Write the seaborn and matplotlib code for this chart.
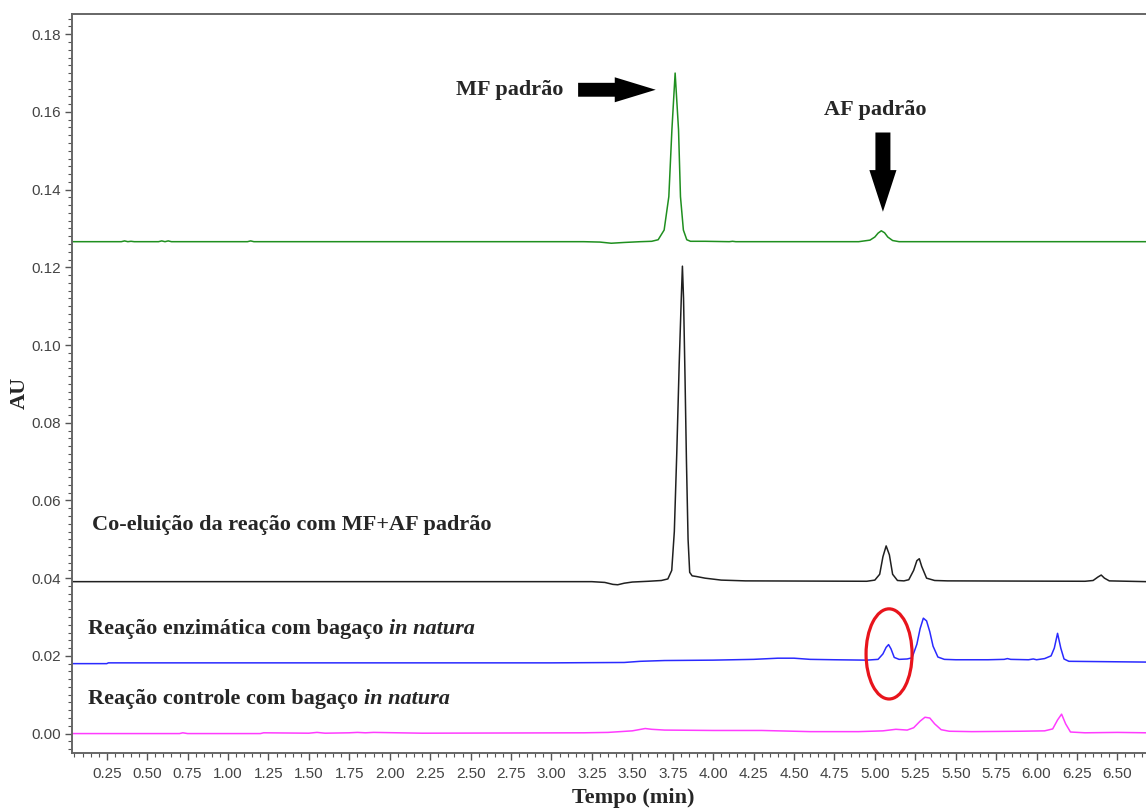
import numpy as np
import pandas as pd
import matplotlib
matplotlib.use("Agg")
import matplotlib.pyplot as plt
from matplotlib.patches import Ellipse
from matplotlib.ticker import MultipleLocator, FormatStrFormatter
import seaborn as sns

# ---------------- data ----------------
# Standard MF + AF (green)
t_std = [0.035, 0.34, 0.36, 0.38, 0.40, 0.42, 0.57, 0.59, 0.61, 0.63, 0.65, 1.12, 1.14, 1.16,
         1.18, 3.20, 3.30, 3.37, 3.45, 3.55, 3.62, 3.66, 3.697, 3.726, 3.745, 3.765, 3.786,
         3.798, 3.816, 3.837, 3.86, 3.95, 4.10, 4.12, 4.14, 4.90, 4.97, 5.00, 5.02, 5.04,
         5.06, 5.08, 5.11, 5.15, 6.68]
au_std = [0.1266, 0.1266, 0.1268, 0.1266, 0.1267, 0.1266, 0.1266, 0.1268, 0.1266, 0.1268,
          0.1266, 0.1266, 0.1268, 0.1266, 0.1266, 0.1266, 0.1265, 0.1262, 0.1264, 0.1266,
          0.1267, 0.1271, 0.1296, 0.1382, 0.1554, 0.1700, 0.1554, 0.1382, 0.1296, 0.1271,
          0.1267, 0.1267, 0.1266, 0.1267, 0.1266, 0.1266, 0.1270, 0.1278, 0.1288, 0.1294,
          0.1289, 0.1278, 0.1269, 0.1266, 0.1266]

# Co-elution (black)
t_coel = [0.035, 3.25, 3.33, 3.38, 3.41, 3.45, 3.50, 3.60, 3.68, 3.72, 3.744, 3.76, 3.775,
          3.79, 3.803, 3.81, 3.817, 3.826, 3.835, 3.845, 3.855, 3.87, 3.90, 3.95, 4.05, 4.20,
          4.95, 5.00, 5.03, 5.05, 5.07, 5.09, 5.11, 5.14, 5.18, 5.21, 5.24, 5.26, 5.275, 5.29,
          5.32, 5.37, 5.45, 6.30, 6.35, 6.38, 6.40, 6.42, 6.45, 6.68]
au_coel = [0.0391, 0.0391, 0.0389, 0.0384, 0.0383, 0.0387, 0.0390, 0.0392, 0.0394, 0.0398,
           0.0420, 0.0520, 0.0720, 0.0950, 0.1120, 0.1203, 0.1120, 0.0920, 0.0700, 0.0500,
           0.0415, 0.0406, 0.0404, 0.0400, 0.0395, 0.0393, 0.0392, 0.0395, 0.0410, 0.0455,
           0.0483, 0.0460, 0.0410, 0.0394, 0.0393, 0.0396, 0.0420, 0.0445, 0.0450, 0.0430,
           0.0400, 0.0394, 0.0393, 0.0392, 0.0394, 0.0403, 0.0408, 0.0400, 0.0393, 0.0391]

# Enzymatic reaction with in natura bagasse (blue)
t_enz = [0.035, 0.25, 0.26, 2.0, 3.0, 3.45, 3.55, 3.70, 4.0, 4.25, 4.40, 4.50, 4.60, 4.75,
         4.95, 5.02, 5.05, 5.07, 5.085, 5.10, 5.12, 5.15, 5.20, 5.23, 5.26, 5.28, 5.30, 5.32,
         5.34, 5.36, 5.39, 5.43, 5.50, 5.70, 5.80, 5.82, 5.84, 5.95, 5.98, 6.00, 6.05, 6.09,
         6.11, 6.13, 6.15, 6.17, 6.20, 6.68]
au_enz = [0.0180, 0.0180, 0.0182, 0.0182, 0.0182, 0.0183, 0.0186, 0.0188, 0.0189, 0.0191,
          0.0194, 0.0194, 0.0191, 0.0190, 0.0189, 0.0191, 0.0205, 0.0222, 0.0229, 0.0218,
          0.0196, 0.0191, 0.0192, 0.0195, 0.0230, 0.0270, 0.0297, 0.0290, 0.0262, 0.0225,
          0.0197, 0.0191, 0.0190, 0.0190, 0.0191, 0.0193, 0.0191, 0.0190, 0.0192, 0.0190,
          0.0193, 0.0200, 0.0220, 0.0258, 0.0220, 0.0192, 0.0186, 0.0184]

# Control reaction with in natura bagasse (magenta)
t_ctrl = [0.035, 0.70, 0.72, 0.75, 1.20, 1.22, 1.50, 1.55, 1.60, 1.75, 1.80, 1.85, 1.90,
          2.20, 3.20, 3.35, 3.50, 3.58, 3.62, 3.70, 4.00, 4.30, 4.60, 4.90, 5.05, 5.13, 5.20,
          5.24, 5.28, 5.31, 5.34, 5.37, 5.41, 5.46, 5.60, 5.90, 6.05, 6.10, 6.13, 6.155, 6.18,
          6.21, 6.30, 6.50, 6.68]
au_ctrl = [0.0000, 0.0000, 0.0002, 0.0000, 0.0000, 0.0002, 0.0001, 0.0003, 0.0001, 0.0002,
           0.0003, 0.0002, 0.0003, 0.0001, 0.0002, 0.0003, 0.0007, 0.0013, 0.0011, 0.0009,
           0.0008, 0.0008, 0.0005, 0.0005, 0.0007, 0.0011, 0.0009, 0.0015, 0.0032, 0.0042,
           0.0040, 0.0025, 0.0010, 0.0006, 0.0005, 0.0006, 0.0007, 0.0012, 0.0035, 0.0050,
           0.0025, 0.0004, 0.0002, 0.0003, 0.0002]

x_ticks = [0.25 * i for i in range(1, 27)]
y_ticks = [0.02 * i for i in range(0, 10)]

# ---------------- figure ----------------
sns.set_style("ticks")
plt.rcParams["font.family"] = ["Liberation Sans", "DejaVu Sans"]

fig = plt.figure(figsize=(11.46, 8.09), dpi=100)
ax = fig.add_axes([72 / 1146, 56 / 809, (1146 - 72) / 1146, (753 - 14) / 809])

series = [
    (t_std, au_std, "#1f8f1f"),
    (t_coel, au_coel, "#202020"),
    (t_enz, au_enz, "#2a2aff"),
    (t_ctrl, au_ctrl, "#ff3cff"),
]
for t, a, c in series:
    df = pd.DataFrame({"t": t, "au": a})
    sns.lineplot(data=df, x="t", y="au", ax=ax, color=c, linewidth=1.1,
                 estimator=None, sort=False)

ax.set_xlim(0.035, 6.677)
ax.set_ylim(-0.005, 0.1852)
ax.set_xticks(x_ticks)
ax.set_yticks(y_ticks)
ax.xaxis.set_major_formatter(FormatStrFormatter("%.2f"))
ax.yaxis.set_major_formatter(FormatStrFormatter("%.2f"))
ax.xaxis.set_minor_locator(MultipleLocator(0.05))
ax.yaxis.set_minor_locator(MultipleLocator(0.002))
ax.tick_params(axis="both", which="major", direction="out", length=5, width=1.0,
               color="#555555", labelsize=11, labelcolor="#444444", pad=3)
ax.tick_params(axis="both", which="minor", direction="out", length=3, width=0.8,
               color="#555555")
ax.tick_params(axis="x", which="major", pad=5)
for side in ["left", "bottom", "top"]:
    ax.spines[side].set_color("#666666")
    ax.spines[side].set_linewidth(1.4)
ax.spines["right"].set_visible(False)
ax.set_xlabel("")
ax.set_ylabel("")

serif = ["Liberation Serif", "DejaVu Serif"]
fs = 16
fig.text(633.5 / 1146, 1 - 798 / 809, "Tempo (min)", family=serif, fontweight="bold",
         fontsize=fs, ha="center", va="center")
fig.text(20 / 1146, 1 - 393 / 809, "AU", family=serif, fontweight="bold",
         fontsize=fs, ha="center", va="center", rotation=90)

# annotations
ax.text(3.072, 0.1657, "MF padrão", family=serif, fontweight="bold", fontsize=fs,
        ha="right", va="center")
ax.text(4.685, 0.1605, "AF padrão", family=serif, fontweight="bold", fontsize=fs,
        ha="left", va="center")

ax.annotate("", xy=(3.645, 0.1657), xytext=(3.165, 0.1657),
            arrowprops=dict(arrowstyle="simple,head_length=29.5,head_width=18,tail_width=10",
                            mutation_scale=1, fc="black", ec="black", lw=0,
                            shrinkA=0, shrinkB=0))
ax.annotate("", xy=(5.05, 0.1343), xytext=(5.05, 0.1547),
            arrowprops=dict(arrowstyle="simple,head_length=30,head_width=19.5,tail_width=10.8",
                            mutation_scale=1, fc="black", ec="black", lw=0,
                            shrinkA=0, shrinkB=0))

ax.text(0.159, 0.0537, "Co-eluição da reação com MF+AF padrão", family=serif,
        fontweight="bold", fontsize=fs, ha="left", va="center")

t1 = ax.text(0.134, 0.0269, "Reação enzimática com bagaço ", family=serif,
             fontweight="bold", fontsize=fs, ha="left", va="center")
ax.annotate("in natura", xy=(1, 0), xycoords=t1, ha="left", va="bottom", family=serif,
            fontweight="bold", fontstyle="italic", fontsize=fs)
t2 = ax.text(0.134, 0.0089, "Reação controle com bagaço ", family=serif,
             fontweight="bold", fontsize=fs, ha="left", va="center")
ax.annotate("in natura", xy=(1, 0), xycoords=t2, ha="left", va="bottom", family=serif,
            fontweight="bold", fontstyle="italic", fontsize=fs)

ax.add_patch(Ellipse((5.088, 0.0205), width=0.2845, height=0.0232, fill=False,
                     edgecolor="#e8141c", linewidth=2.3, zorder=5))

fig.savefig("out.png", dpi=100)
